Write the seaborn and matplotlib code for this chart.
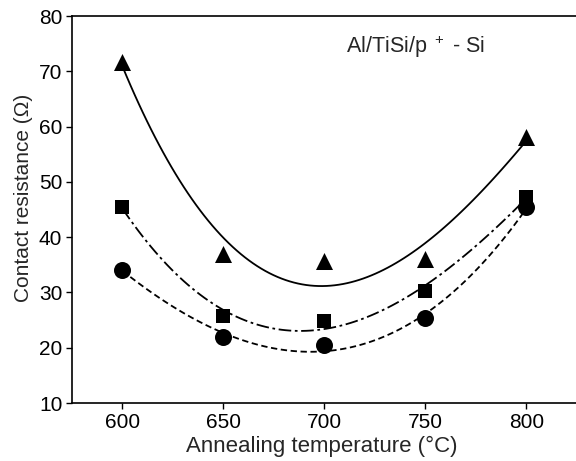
import numpy as np
import pandas as pd
import matplotlib
matplotlib.use("Agg")
import matplotlib.pyplot as plt
import seaborn as sns

# Valores (resistência de contato em ohm)
temperaturas = [600, 650, 700, 750, 800]
r_triangulo = [71.6, 36.9, 35.6, 36.0, 58.2]
r_quadrado = [45.4, 25.8, 24.9, 30.3, 47.3]
r_circulo = [34.1, 21.9, 20.5, 25.4, 45.4]

sns.set_style("ticks")
plt.rcParams['font.family'] = ['Liberation Sans', 'DejaVu Sans']
plt.rcParams['mathtext.default'] = 'regular'

fig = plt.figure(figsize=(5.76, 4.61), dpi=100)
ax = fig.add_axes([72 / 576, 58 / 461, 505 / 576, 387 / 461])

series = [
    (r_triangulo, '^', 150, dict(linestyle='-')),
    (r_quadrado, 's', 95, dict(dashes=(7, 2, 1.5, 2))),
    (r_circulo, 'o', 150, dict(dashes=(3.5, 2))),
]
for valores, marcador, tam, estilo in series:
    df = pd.DataFrame({'temp': temperaturas, 'r': valores})
    sns.regplot(data=df, x='temp', y='r', order=3, ci=None, ax=ax,
                marker=marcador, color='black',
                scatter_kws=dict(s=tam, linewidths=0, alpha=1, zorder=3),
                line_kws=dict(linewidth=1.3, **estilo))

ax.set_xlim(575, 825)
ax.set_ylim(10, 80)
ax.set_xticks([600, 650, 700, 750, 800])
ax.set_yticks(np.arange(10, 81, 10))
ax.tick_params(labelsize=15, length=4, width=1, color='black', labelcolor='black', pad=3)
ax.spines['right'].set_visible(False)
for lado in ['left', 'top', 'bottom']:
    ax.spines[lado].set_linewidth(1.2)
    ax.spines[lado].set_color('black')

ax.set_xlabel('Annealing temperature (°C)', fontsize=16)
ax.set_ylabel('Contact resistance (Ω)', fontsize=15)
ax.xaxis.set_label_coords(0.494, -0.085)
ax.yaxis.set_label_coords(-0.078, 0.53)
ax.text(0.542, 0.92, 'Al/TiSi/p$^{\\ +}$ - Si', transform=ax.transAxes,
        fontsize=15.5, ha='left', va='center')

plt.savefig('out.png', dpi=100)
